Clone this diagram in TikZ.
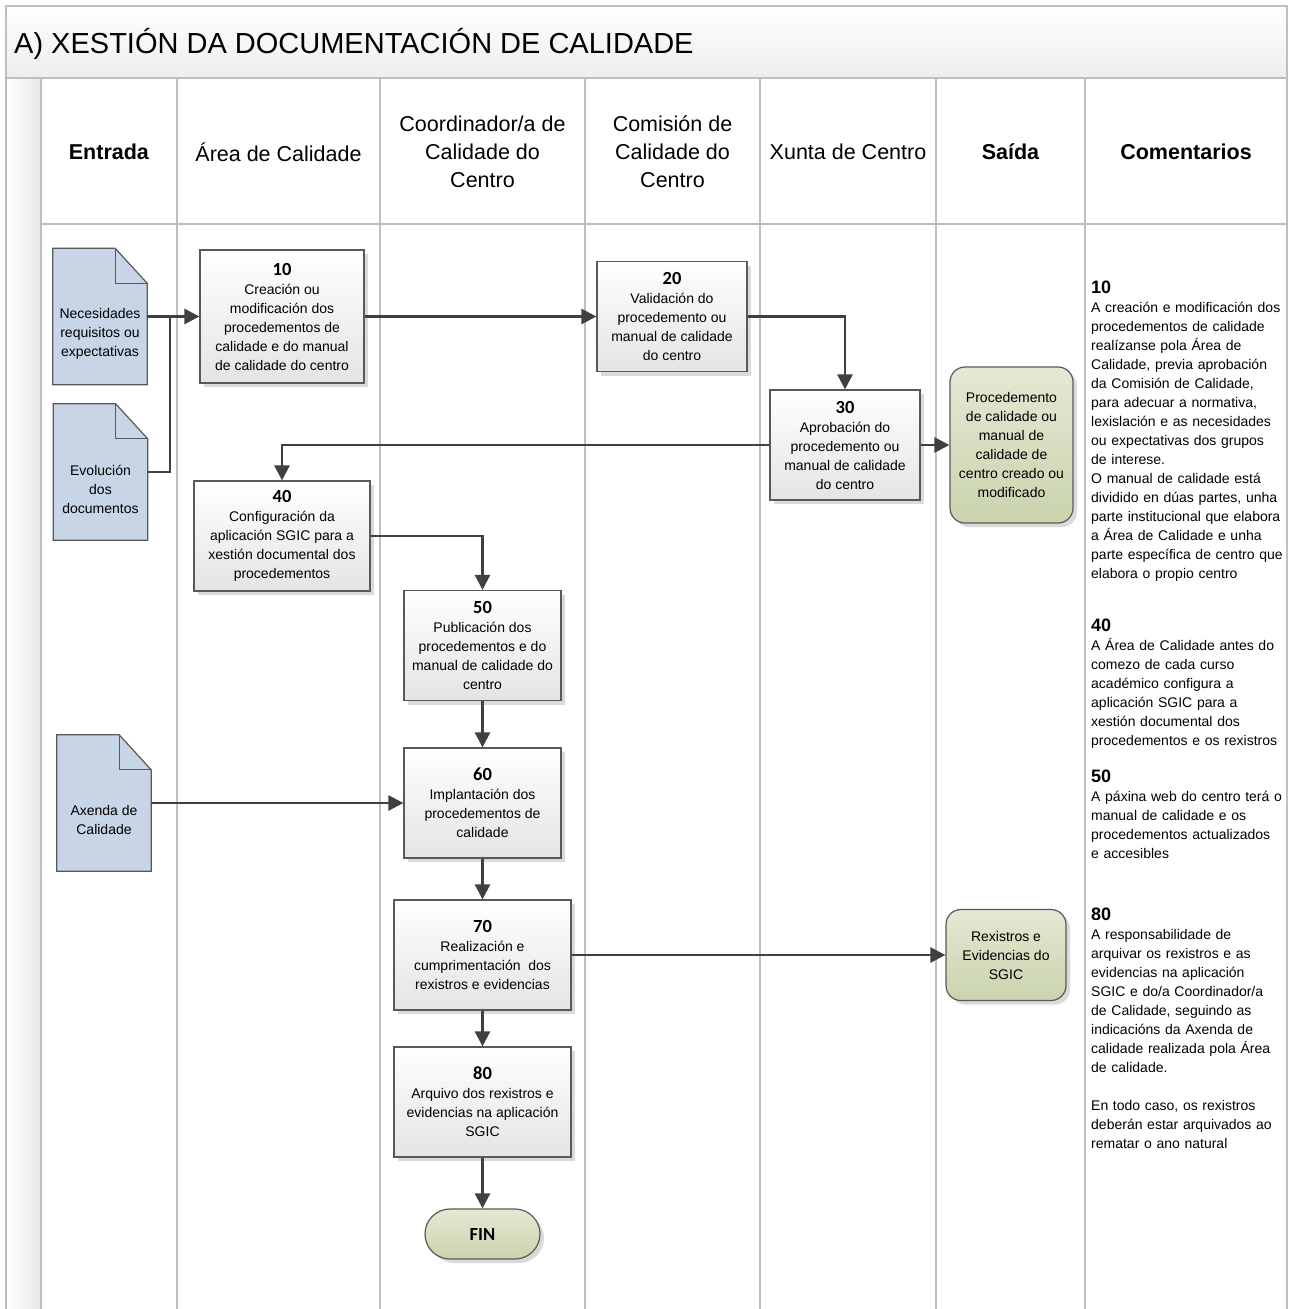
\documentclass[tikz,border=0pt]{standalone}
\usepackage{fontspec}
\setmainfont{Liberation Sans}
\newfontfamily\numfont{Carlito}
\usetikzlibrary{arrows.meta,shadows,backgrounds}

\definecolor{docblue}{HTML}{C8D5E6}
\definecolor{edgegray}{HTML}{595959}
\definecolor{linegray}{HTML}{404040}
\definecolor{lanegray}{HTML}{BFBFBF}
\definecolor{boxgray}{HTML}{E4E4E4}
\definecolor{shadowgray}{HTML}{DADADA}
\definecolor{greentop}{HTML}{E4E9D4}
\definecolor{greenbot}{HTML}{CAD3AD}

\newcommand{\stepno}[1]{{\numfont\bfseries\fontsize{18.5}{19}\selectfont #1}}
\newcommand{\cmtno}[1]{{\bfseries\fontsize{18}{19}\selectfont #1}}
\newcommand{\doctxt}[1]{\parbox[c]{92pt}{\centering\vspace*{34pt}#1}}

\begin{document}
\begin{tikzpicture}
	[   x=1pt, y=-1pt,
		pnode/.style={draw=edgegray,line width=1.2pt,top color=white,bottom color=boxgray,
			drop shadow={shadow xshift=4pt,shadow yshift=-4pt,fill=shadowgray,opacity=1},
			align=center,inner sep=0pt,minimum width=#1,minimum height=110pt,
			font=\fontsize{14}{19}\selectfont},
		tnode/.style={draw=edgegray,line width=1.2pt,top color=greentop,bottom color=greenbot,
			rounded corners=#1,
			drop shadow={shadow xshift=4pt,shadow yshift=-4pt,fill=shadowgray,opacity=1},
			align=center,inner sep=0pt,font=\fontsize{14}{19}\selectfont},
		dnode/.style={minimum width=94pt,minimum height=136pt,inner sep=0pt,
			font=\fontsize{14}{19}\selectfont},
		hdr/.style={align=center,inner sep=0pt,font=\fontsize{21.5}{28}\selectfont},
		cmt/.style={anchor=north west,align=left,text width=200pt,inner sep=0pt,
			font=\fontsize{14}{19}\selectfont},
		lane/.style={draw=lanegray,line width=2pt},
	]
	\tikzset{flow arrow/.style={draw=linegray,line width=2.6pt,-{Triangle[length=15pt,width=15pt]}},
		flow line/.style={draw=linegray,line width=2.6pt}}
	\useasboundingbox (0,0) rectangle (1290,1309);
	
	% frame, title band and lanes
	\shade[top color=white,bottom color=black!7] (6,6) rectangle (1287,78);
	\shade[left color=white,right color=black!9] (6,78) rectangle (41,1309);
	\draw[lane] (6,1309) -- (6,6) -- (1287,6) -- (1287,1309);
	\draw[lane] (6,78) -- (1287,78);
	\draw[lane] (41,224) -- (1287,224);
	\foreach \lx in {41,177,380,585,760,936,1085}
	{
		\draw[lane] (\lx,78) -- (\lx,1309);
	}
	\node[anchor=west,inner sep=0pt,font=\fontsize{29}{34}\selectfont] (title) at (14,44) {A) XESTIÓN DA DOCUMENTACIÓN DE CALIDADE};
	
	\node[hdr] (h-1) at (109,152) {\textbf{Entrada}};
	\node[hdr] (h-2) at (278.5,152) {Área de Calidade};
	\node[hdr] (h-3) at (482.5,152) {Coordinador/a de\\Calidade do\\Centro};
	\node[hdr] (h-4) at (672.5,152) {Comisión de\\Calidade do\\Centro};
	\node[hdr] (h-5) at (848,152) {Xunta de Centro};
	\node[hdr] (h-6) at (1010.5,152) {\textbf{Saída}};
	\node[hdr] (h-7) at (1186,152) {\textbf{Comentarios}};
	
	% entradas
	\node[dnode] (nec) at (100,316.5) {\doctxt{Necesidades\\requisitos ou\\expectativas}};
	\node[dnode] (evo) at (100.5,472) {\doctxt{Evolución\\dos\\documentos}};
	\node[dnode] (axe) at (104,803) {\doctxt{Axenda de\\Calidade}};
	\coordinate (jn) at (170,316.5);
	
	% pasos
	\node[pnode=164pt,minimum height=133pt] (p10) at (282,316.5) {\stepno{10}\\Creación ou\\modificación dos\\procedementos de\\calidade e do manual\\de calidade do centro};
	\node[pnode=150pt] (p20) at (672,316.5) {\stepno{20}\\Validación do\\procedemento ou\\manual de calidade\\do centro};
	\node[pnode=150pt] (p30) at (845,445) {\stepno{30}\\Aprobación do\\procedemento ou\\manual de calidade\\do centro};
	\node[pnode=176pt] (p40) at (282,536) {\stepno{40}\\Configuración da\\aplicación SGIC para a\\xestión documental dos\\procedementos};
	\node[pnode=157pt] (p50) at (482.5,645.5) {\stepno{50}\\Publicación dos\\procedementos e do\\manual de calidade do\\centro};
	\node[pnode=157pt] (p60) at (482.5,803) {\stepno{60}\\Implantación dos\\procedementos de\\calidade};
	\node[pnode=177pt] (p70) at (482.5,955) {\stepno{70}\\Realización e\\cumprimentación \ dos\\rexistros e evidencias};
	\node[pnode=177pt] (p80) at (482.5,1102) {\stepno{80}\\Arquivo dos rexistros e\\evidencias na aplicación\\SGIC};
	\node[tnode=25pt,minimum width=115pt,minimum height=50pt] (fin) at (482.5,1234) {\stepno{FIN}};
	
	% saidas
	\node[tnode=15pt,minimum width=123pt,minimum height=156pt] (out1) at (1011.5,445) {Procedemento\\de calidade ou\\manual de\\calidade de\\centro creado ou\\modificado};
	\node[tnode=15pt,minimum width=120pt,minimum height=91pt] (out2) at (1006,955) {Rexistros e\\Evidencias do\\SGIC};
	
	% comentarios
	\node[cmt] (c10) at (1091,280.5) {\cmtno{10}\\A creación e modificación dos\\procedementos de calidade\\realízanse pola Área de\\Calidade, previa aprobación\\da Comisión de Calidade,\\para adecuar a normativa,\\lexislación e as necesidades\\ou expectativas dos grupos\\de interese.\\O manual de calidade está\\dividido en dúas partes, unha\\parte institucional que elabora\\a Área de Calidade e unha\\parte específica de centro que\\elabora o propio centro};
	\node[cmt] (c40) at (1091,618.5) {\cmtno{40}\\A Área de Calidade antes do\\comezo de cada curso\\académico configura a\\aplicación SGIC para a\\xestión documental dos\\procedementos e os rexistros};
	\node[cmt] (c50) at (1091,769.5) {\cmtno{50}\\A páxina web do centro terá o\\manual de calidade e os\\procedementos actualizados\\e accesibles};
	\node[cmt] (c80) at (1091,907.5) {\cmtno{80}\\A responsabilidade de\\arquivar os rexistros e as\\evidencias na aplicación\\SGIC e do/a Coordinador/a\\de Calidade, seguindo as\\indicacións da Axenda de\\calidade realizada pola Área\\de calidade.\\[19pt]En todo caso, os rexistros\\deberán estar arquivados ao\\rematar o ano natural};
	
	% documentos
	\begin{scope}[on background layer]
		\foreach \d in {nec,evo,axe}
		{
			\filldraw[fill=docblue,draw=edgegray,line width=1.2pt] (\d.north west) -- ([xshift=-32pt]\d.north east) -- ([yshift=-35pt]\d.north east) -- (\d.south east) -- (\d.south west) -- cycle;
			\draw[edgegray,line width=1.2pt] ([xshift=-32pt]\d.north east) |- ([yshift=-35pt]\d.north east);
		}
	\end{scope}
	
	% fluxo
	\path[flow arrow] (nec.east) -- (p10.west);
	\path[flow line] (evo.east) -| (jn);
	\path[flow arrow] (p10.east) -- (p20.west);
	\path[flow arrow] (p20.east) -| (p30.north);
	\path[flow arrow] (p30.east) -- (out1.west);
	\path[flow arrow] (p30.west) -| (p40.north);
	\path[flow arrow] (p40.east) -| (p50.north);
	\path[flow arrow] (axe.east) -- (p60.west);
	\path[flow arrow] (p70.east) -- (out2.west);
	\foreach \a/\b in {p50/p60,p60/p70,p70/p80,p80/fin}
	{
		\path[flow arrow] (\a) -- (\b);
	}
\end{tikzpicture}
\end{document}
